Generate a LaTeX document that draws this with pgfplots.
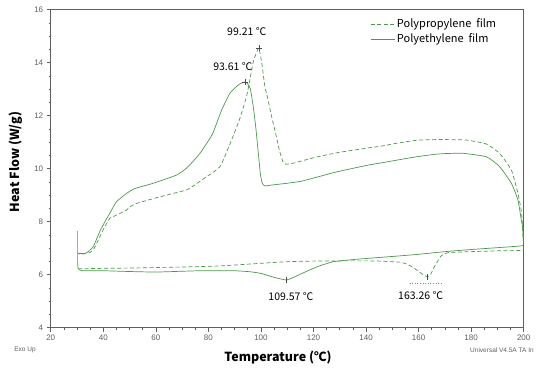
\documentclass[border=0pt]{standalone}
\usepackage{pgfplots}
\pgfplotsset{compat=1.18}
\usepackage{fontspec}
\setmainfont{Noto Sans CJK KR}
\newfontfamily\ticfont{Liberation Sans}
\definecolor{dsc}{RGB}{76,152,76}
\definecolor{tickgray}{RGB}{95,95,95}
\begin{document}
\begin{tikzpicture}
\begin{axis}[
 at={(0,0)}, anchor=south west,
 width=473pt, height=318pt, scale only axis,
 xmin=20, xmax=200, ymin=4, ymax=16,
 xtick={20,40,...,200}, ytick={4,6,...,16},
 minor x tick num=3, minor y tick num=3,
 tick align=outside, xtick pos=bottom, ytick pos=left,
 major tick length=4pt, minor tick length=2pt,
 tick style={tickgray, line width=0.6pt},
 axis line style={tickgray, line width=0.8pt},
 tick label style={font=\ticfont\fontsize{8}{9}\selectfont, text=tickgray},
 /pgf/number format/assume math mode=true,
 xlabel={Temperature (℃)},
 ylabel={Heat Flow (W/g)},
 xlabel style={at={(axis description cs:0.4806,-0.095)}, anchor=center, font=\bfseries\fontsize{12.5}{14}\selectfont},
 ylabel style={at={(axis description cs:-0.0734,0.521)}, anchor=center, font=\bfseries\fontsize{12.5}{14}\selectfont},
 legend style={at={(0.671,0.985)}, anchor=north west, draw=none, fill=none,
   font=\fontsize{11}{13}\selectfont, row sep=1pt, inner xsep=2pt},
 legend cell align=left,
 legend image code/.code={\draw[#1] (0pt,0pt) -- (24pt,0pt);},
]
% Polypropylene film (dashed)
\addplot[dsc, line width=0.7pt, dash pattern=on 4pt off 2.5pt, smooth, tension=0.3] coordinates {
(30.4,6.22) (31,6.22) (40,6.24) (50,6.25) (60,6.27) (70,6.29) (84.4,6.33) (100,6.43) (109.7,6.49)
(118,6.51) (127.5,6.52) (142.6,6.52) (150,6.49) (153.2,6.47) (156,6.38) (158.4,6.24) (161,6.05)
(163.2,5.92) (164.5,6.0) (166,6.3) (167.5,6.55) (168.5,6.7) (171,6.83) (180,6.87) (190,6.9) (199.7,6.93)
(199.85,7.3) (199.7,7.6) (199.1,8.4) (197.8,9.07) (195.3,9.95) (190.8,10.58) (185.8,10.93)
(178.2,11.08) (168,11.1) (160,11.08) (155.4,11.02) (150,10.93) (145.7,10.85) (142,10.8) (139.4,10.76)
(130,10.62) (121.6,10.45) (115,10.28) (112,10.2) (109.5,10.17) (108.4,10.26) (107,10.7) (105.9,11.2)
(104,12.0) (102.5,12.7) (101.5,13.1) (100.3,14.0) (99.2,14.55) (98,14.3) (97,13.99) (95.5,13.2)
(94.5,12.72) (92,11.9) (89.3,11.2) (86,10.4) (84.4,10.08) (81.7,9.85) (79.3,9.7) (75,9.4) (71.7,9.2)
(61.6,8.94) (52.7,8.69) (50,8.55) (48.9,8.44) (46,8.3) (44,8.2) (42.5,8.13) (40,7.7) (36.2,6.93)
(34,6.8) (31,6.78) (30.4,6.8)
};
\addlegendentry{Polypropylene\ \ film}
% Polyethylene film (solid)
\addplot[dsc, line width=0.7pt, smooth, tension=0.3] coordinates {
(30.25,7.65) (30.25,6.5) (30.4,6.25) (31,6.18) (32,6.15) (40,6.15) (50,6.12) (60,6.1) (70,6.13)
(77,6.15) (85,6.15) (90,6.15) (96,6.11) (100,6.05) (102,5.99) (105,5.9) (109.6,5.8) (112,5.88)
(115,6.02) (118.6,6.18) (122,6.32) (127.5,6.49) (135,6.57) (145,6.65) (152.8,6.71) (160,6.77)
(170,6.87) (180,6.95) (190,7.02) (199.7,7.1)
(199.8,7.3) (199.6,7.8) (199.1,8.06) (197.8,8.82) (195.3,9.45) (190.8,10.08) (185.8,10.45)
(176.9,10.58) (170,10.57) (166,10.54) (157.9,10.43) (147,10.24) (140,10.12) (128,9.86) (115,9.52)
(103,9.37) (101.5,9.35) (100.5,9.45) (99.8,9.8) (99,10.6) (98,11.6) (97,12.4) (96,13.0) (95,13.2)
(93.9,13.27) (92,13.2) (90.7,13.1) (88.2,12.85) (85,12.2) (81.5,11.3) (76.8,10.58) (72,10.05)
(67.9,9.76) (59,9.45) (52,9.25) (48.9,9.07) (45,8.75) (42.5,8.32) (39,7.7) (36.2,7.06) (34,6.85)
(33,6.8) (31,6.8) (30.4,6.82)
};
\addlegendentry{Polyethylene\ \ film}
% peak markers
\addplot[black!70, only marks, mark=+, mark size=3pt, line width=0.4pt, forget plot] coordinates {(93.9,13.27) (99.2,14.55)};
\addplot[black!70, only marks, mark=|, mark size=3pt, line width=0.4pt, forget plot] coordinates {(109.6,5.8) (163.3,5.92)};
\addplot[gray, dotted, line width=0.6pt, forget plot] coordinates {(156.6,5.68) (168.8,5.68)};
\node[font=\fontsize{10.5}{12}\selectfont] at (axis cs:94.6,15.16) {99.21 ℃};
\node[font=\fontsize{10.5}{12}\selectfont] at (axis cs:89.3,13.84) {93.61 ℃};
\node[font=\fontsize{10.5}{12}\selectfont] at (axis cs:111.4,5.16) {109.57 ℃};
\node[font=\fontsize{10.5}{12}\selectfont] at (axis cs:160.8,5.2) {163.26 ℃};
\end{axis}
\node[font=\ticfont\fontsize{6.5}{7}\selectfont, text=tickgray] at (-25.7pt,-22.3pt) {Exo Up};
\node[font=\ticfont\fontsize{6.5}{7}\selectfont, text=tickgray, anchor=west] at (416pt,-22.3pt) {Universal V4.5A TA In};
\pgfresetboundingbox
\path (-50.7pt,-43.3pt) rectangle (486.3pt,327.7pt);
\end{tikzpicture}
\end{document}
